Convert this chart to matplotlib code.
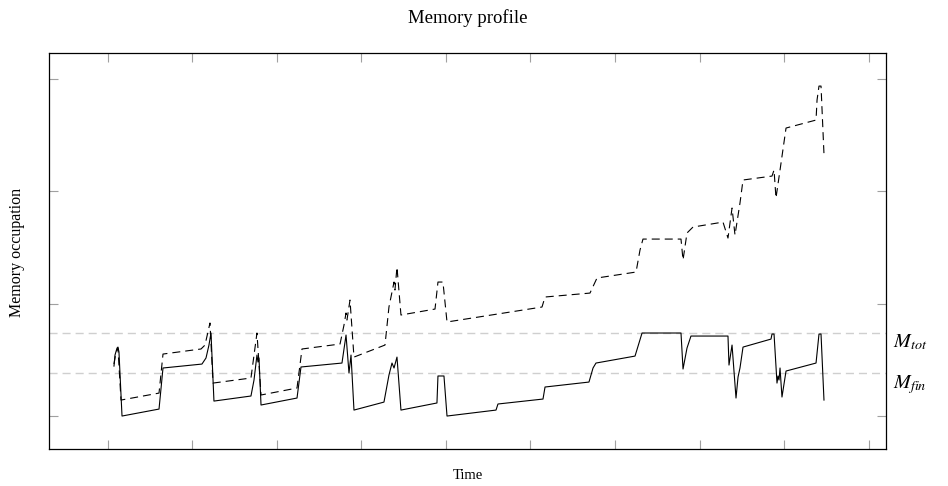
import matplotlib
matplotlib.use("Agg")
import matplotlib.pyplot as plt

plt.rcParams["font.family"] = ["Liberation Serif", "DejaVu Serif"]
plt.rcParams["mathtext.fontset"] = "stix"

# Memory occupation over time (arbitrary units)
solid_t = [0.71, 0.83, 1.07, 1.18, 1.30, 1.66, 6.04, 6.51, 11.12, 11.60, 11.95, 12.19,
           12.54, 16.92, 17.28, 17.63, 17.75, 17.87, 18.11, 22.37, 22.84, 27.69, 28.17,
           28.52, 28.76, 29.11, 32.66, 33.25, 33.61, 33.85, 34.20, 34.67, 38.93, 39.05,
           39.76, 40.12, 45.92, 46.15, 51.48, 51.72, 56.92, 57.40, 57.75, 62.37, 62.84,
           63.20, 67.81, 68.05, 68.52, 68.99, 73.37, 73.49, 73.85, 74.32, 74.56, 74.79,
           75.15, 78.46, 78.58, 78.82, 79.17, 79.29, 79.41, 79.53, 79.64, 79.76, 80.24,
           83.79, 84.14, 84.38, 84.73]
solid_mem = [1.444, 1.542, 1.604, 1.613, 1.569, 1.000, 1.062, 1.427, 1.462, 1.516, 1.631,
             1.738, 1.133, 1.178, 1.320, 1.542, 1.480, 1.516, 1.098, 1.160, 1.436, 1.471,
             1.720, 1.382, 1.542, 1.053, 1.124, 1.364, 1.471, 1.427, 1.524, 1.053, 1.116,
             1.356, 1.356, 1.000, 1.053, 1.107, 1.151, 1.258, 1.302, 1.427, 1.471, 1.533,
             1.649, 1.738, 1.738, 1.418, 1.604, 1.711, 1.711, 1.453, 1.631, 1.160, 1.347,
             1.427, 1.613, 1.684, 1.729, 1.729, 1.293, 1.356, 1.320, 1.427, 1.302, 1.169,
             1.400, 1.471, 1.729, 1.729, 1.142]

dashed_t = [0.71, 0.95, 1.18, 1.54, 6.04, 6.51, 11.01, 11.48, 12.07, 12.43, 16.92, 17.63,
            18.11, 22.37, 22.96, 27.46, 27.93, 28.17, 28.28, 28.64, 29.11, 32.78, 33.25,
            33.73, 33.85, 33.96, 34.20, 34.67, 38.70, 39.05, 39.64, 40.12, 51.36, 51.72,
            57.04, 57.87, 62.49, 62.96, 63.31, 67.81, 68.05, 68.52, 69.23, 72.78, 73.37,
            73.85, 74.20, 74.79, 75.15, 78.58, 78.82, 79.05, 79.53, 80.24, 83.79, 83.91,
            84.14, 84.38, 84.73]
dashed_mem = [1.462, 1.569, 1.604, 1.142, 1.204, 1.551, 1.596, 1.631, 1.827, 1.293, 1.338,
              1.738, 1.187, 1.249, 1.596, 1.640, 1.809, 1.916, 1.853, 2.031, 1.524, 1.631,
              1.969, 2.147, 2.191, 2.120, 2.324, 1.898, 1.951, 2.191, 2.191, 1.836, 1.969,
              2.058, 2.093, 2.227, 2.280, 2.476, 2.573, 2.573, 2.387, 2.627, 2.680, 2.724,
              2.582, 2.849, 2.609, 2.893, 3.098, 3.133, 3.187, 2.938, 3.187, 3.560, 3.631,
              3.809, 3.933, 3.933, 3.329]

M_tot = 1.738
M_fin = 1.382

x_ticks = [0, 10, 20, 30, 40, 50, 60, 70, 80, 90]
y_ticks = [1, 2, 3, 4]

fig = plt.figure(figsize=(9.48, 4.86), dpi=100)
ax = fig.add_axes([49 / 948, 1 - 449 / 486, 837 / 948, 396 / 486])

ax.axhline(M_tot, color="#cfcfcf", lw=1.0, ls=(0, (5.8, 3.6)), zorder=1)
ax.axhline(M_fin, color="#cfcfcf", lw=1.0, ls=(0, (5.8, 3.6)), zorder=1)

ax.plot(solid_t, solid_mem, color="black", lw=0.8, zorder=3)
ax.plot(dashed_t, dashed_mem, color="black", lw=0.8, ls=(0, (7.2, 4.5)), zorder=3)

ax.set_xlim(-6.98, 92.07)
ax.set_ylim(0.707, 4.227)
ax.set_xticks(x_ticks)
ax.set_yticks(y_ticks)
ax.tick_params(direction="in", length=6.5, width=0.8, color="#a0a0a0",
               top=True, right=True, labelbottom=False, labelleft=False)
for s in ax.spines.values():
    s.set_linewidth(0.9)
    s.set_color("black")

ax.text(1.008, M_tot, r"$M_{tot}$", transform=ax.get_yaxis_transform(),
        ha="left", va="top", fontsize=14.5)
ax.text(1.008, M_fin, r"$M_{fin}$", transform=ax.get_yaxis_transform(),
        ha="left", va="top", fontsize=14.5)

fig.text(467.5 / 948, 1 - 18 / 486, "Memory profile", ha="center", va="center", fontsize=13.5)
fig.text(17 / 948, 1 - 252 / 486, "Memory occupation", ha="center", va="center",
         rotation=90, fontsize=11.5)
fig.text(467.5 / 948, 1 - 475 / 486, "Time", ha="center", va="center", fontsize=10.5)

fig.savefig("out.png", dpi=100)
